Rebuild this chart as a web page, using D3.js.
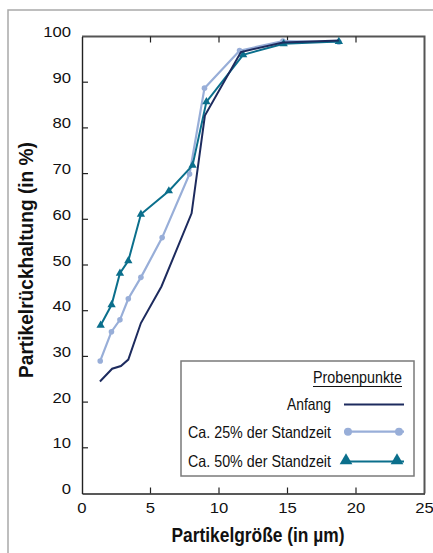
<!DOCTYPE html>
<html>
<head>
<meta charset="utf-8">
<script src="https://cdn.jsdelivr.net/npm/d3@7"></script>
<style>
  html, body { margin: 0; padding: 0; background: #fff; }
  svg { display: block; }
</style>
</head>
<body>
<svg id="chart" width="433" height="553"></svg>
<script>
// Particle retention vs. particle size for three sampling points
const seriesNames = ["Anfang", "Ca. 25% der Standzeit", "Ca. 50% der Standzeit"];

const anfangX = [1.31, 2.2, 2.84, 3.38, 4.3, 5.8, 8.0, 8.97, 11.6, 14.67, 18.75];
const anfangY = [24.5, 27.3, 27.9, 29.3, 37.3, 45.3, 61.3, 82.7, 96.6, 98.7, 99.1];

const quarterX = [1.33, 2.15, 2.77, 3.38, 4.3, 5.85, 7.85, 8.94, 11.5, 14.67, 18.75];
const quarterY = [29.0, 35.4, 38.0, 42.6, 47.3, 56.0, 69.9, 88.7, 96.9, 99.0, 98.8];

const halfX = [1.36, 2.16, 2.77, 3.38, 4.3, 6.34, 8.07, 9.08, 11.76, 14.72, 18.75];
const halfY = [36.8, 41.3, 48.2, 50.9, 61.1, 66.2, 71.8, 85.7, 96.0, 98.4, 98.9];

const xTicks = [0, 5, 10, 15, 20, 25];
const yTicks = [0, 10, 20, 30, 40, 50, 60, 70, 80, 90, 100];

const colors = { anfang: "#1d2b5e", quarter: "#98aed8", half: "#0b6f8c" };

const svg = d3.select("#chart");
const plot = { left: 82, right: 424.5, top: 36.5, bottom: 493.5 };
const x = d3.scaleLinear().domain([0, 25]).range([plot.left, plot.right]);
const y = d3.scaleLinear().domain([0, 100]).range([plot.bottom, plot.top]);

// condensed look: Helvetica-like face squeezed to the given text lengths
const narrow = "'Liberation Sans', Arial, Helvetica, sans-serif";
const regular = "'Liberation Sans', Arial, Helvetica, sans-serif";

// outer frame
svg.append("path")
  .attr("d", "M8,553 L8,10 L433,10")
  .attr("fill", "none").attr("stroke", "#a9a9a9").attr("stroke-width", 1.5);

// plot box: top and right in dark grey
svg.append("path")
  .attr("d", `M${plot.left},${plot.top} L${plot.right},${plot.top} L${plot.right},${plot.bottom}`)
  .attr("fill", "none").attr("stroke", "#555").attr("stroke-width", 2);

// axes
const gx = svg.append("g").attr("transform", `translate(0,${plot.bottom})`)
  .call(d3.axisBottom(x).tickValues(xTicks).tickSize(0).tickPadding(0).tickFormat(""));
const gy = svg.append("g").attr("transform", `translate(${plot.left},0)`)
  .call(d3.axisLeft(y).tickValues(yTicks).tickSize(0).tickFormat(""));
[gx, gy].forEach(g => g.select(".domain").attr("stroke", "#222").attr("stroke-width", 1.4));

// inward tick marks
const inner = xTicks.filter(v => v > 0 && v < 25);
svg.append("g").selectAll("line").data(inner).join("line")
  .attr("x1", d => x(d)).attr("x2", d => x(d))
  .attr("y1", plot.bottom).attr("y2", plot.bottom - 6)
  .attr("stroke", "#222").attr("stroke-width", 1.2);
svg.append("g").selectAll("line").data(inner).join("line")
  .attr("x1", d => x(d)).attr("x2", d => x(d))
  .attr("y1", plot.top).attr("y2", plot.top + 6)
  .attr("stroke", "#222").attr("stroke-width", 1.2);
svg.append("g").selectAll("line").data(yTicks.filter(v => v > 0 && v < 100)).join("line")
  .attr("x1", plot.left).attr("x2", plot.left + 6)
  .attr("y1", d => y(d)).attr("y2", d => y(d))
  .attr("stroke", "#222").attr("stroke-width", 1.2);

// tick labels
svg.append("g").selectAll("text").data(yTicks).join("text")
  .attr("transform", d => `translate(71,${y(d) + 0.5}) scale(1.15,1)`)
  .attr("text-anchor", "end")
  .attr("font-family", regular).attr("font-size", 14.5).attr("fill", "#111")
  .text(d => d);
svg.append("g").selectAll("text").data(xTicks).join("text")
  .attr("transform", d => `translate(${x(d)},${plot.bottom + 19}) scale(1.15,1)`)
  .attr("text-anchor", "middle")
  .attr("font-family", regular).attr("font-size", 14.5).attr("fill", "#111")
  .text(d => d);

// axis titles
svg.append("text")
  .attr("x", 258).attr("y", 541.5)
  .attr("text-anchor", "middle")
  .attr("font-family", narrow).attr("font-weight", "bold").attr("font-size", 20)
  .attr("textLength", 173).attr("lengthAdjust", "spacingAndGlyphs")
  .attr("fill", "#111")
  .text("Partikelgröße (in µm)");
svg.append("text")
  .attr("transform", "translate(33,260) rotate(-90)")
  .attr("text-anchor", "middle")
  .attr("font-family", narrow).attr("font-weight", "bold").attr("font-size", 20)
  .attr("textLength", 236).attr("lengthAdjust", "spacingAndGlyphs")
  .attr("fill", "#111")
  .text("Partikelrückhaltung (in %)");

// series
const line = d3.line().x(d => x(d[0])).y(d => y(d[1]));
const zip = (a, b) => a.map((v, i) => [v, b[i]]);
const tri = d3.symbol().type(d3.symbolTriangle).size(30);

const quarter = zip(quarterX, quarterY);
const half = zip(halfX, halfY);
const anfang = zip(anfangX, anfangY);

svg.append("path").datum(quarter).attr("d", line)
  .attr("fill", "none").attr("stroke", colors.quarter).attr("stroke-width", 2.2);
svg.append("g").selectAll("circle").data(quarter).join("circle")
  .attr("cx", d => x(d[0])).attr("cy", d => y(d[1])).attr("r", 2.8)
  .attr("fill", colors.quarter);

svg.append("path").datum(half).attr("d", line)
  .attr("fill", "none").attr("stroke", colors.half).attr("stroke-width", 2);
svg.append("g").selectAll("path").data(half).join("path")
  .attr("d", tri)
  .attr("transform", d => `translate(${x(d[0])},${y(d[1])})`)
  .attr("fill", colors.half);

svg.append("path").datum(anfang).attr("d", line)
  .attr("fill", "none").attr("stroke", colors.anfang).attr("stroke-width", 2);

// legend
const lg = svg.append("g");
lg.append("rect")
  .attr("x", 181).attr("y", 361).attr("width", 233).attr("height", 115)
  .attr("fill", "#fff").attr("stroke", "#7a7a7a").attr("stroke-width", 1.5);
lg.append("text")
  .attr("x", 402).attr("y", 383).attr("text-anchor", "end")
  .attr("font-family", narrow).attr("font-size", 16.5).attr("fill", "#111")
  .attr("textLength", 89).attr("lengthAdjust", "spacingAndGlyphs")
  .text("Probenpunkte");
lg.append("line")
  .attr("x1", 313).attr("x2", 402).attr("y1", 386.5).attr("y2", 386.5)
  .attr("stroke", "#111").attr("stroke-width", 1);

const rows = [
  { name: seriesNames[0], yText: 410, yLine: 404.5, color: colors.anfang, w: 44, marker: null },
  { name: seriesNames[1], yText: 437.5, yLine: 431.7, color: colors.quarter, w: 143, marker: "circle" },
  { name: seriesNames[2], yText: 467, yLine: 461.5, color: colors.half, w: 143, marker: "tri" }
];
rows.forEach(r => {
  lg.append("text")
    .attr("x", 331).attr("y", r.yText).attr("text-anchor", "end")
    .attr("font-family", narrow).attr("font-size", 16.5).attr("fill", "#111")
    .attr("textLength", r.w).attr("lengthAdjust", "spacingAndGlyphs")
    .text(r.name);
  lg.append("line")
    .attr("x1", 344).attr("x2", 404).attr("y1", r.yLine).attr("y2", r.yLine)
    .attr("stroke", r.color).attr("stroke-width", r.marker === "circle" ? 2.2 : 2);
  [348, 399].forEach(cx => {
    if (r.marker === "circle") {
      lg.append("circle").attr("cx", cx).attr("cy", r.yLine).attr("r", 4).attr("fill", r.color);
    } else if (r.marker === "tri") {
      lg.append("path").attr("d", d3.symbol().type(d3.symbolTriangle).size(70))
        .attr("transform", `translate(${cx - 2},${r.yLine - 1})`).attr("fill", r.color);
    }
  });
});
</script>
</body>
</html>
